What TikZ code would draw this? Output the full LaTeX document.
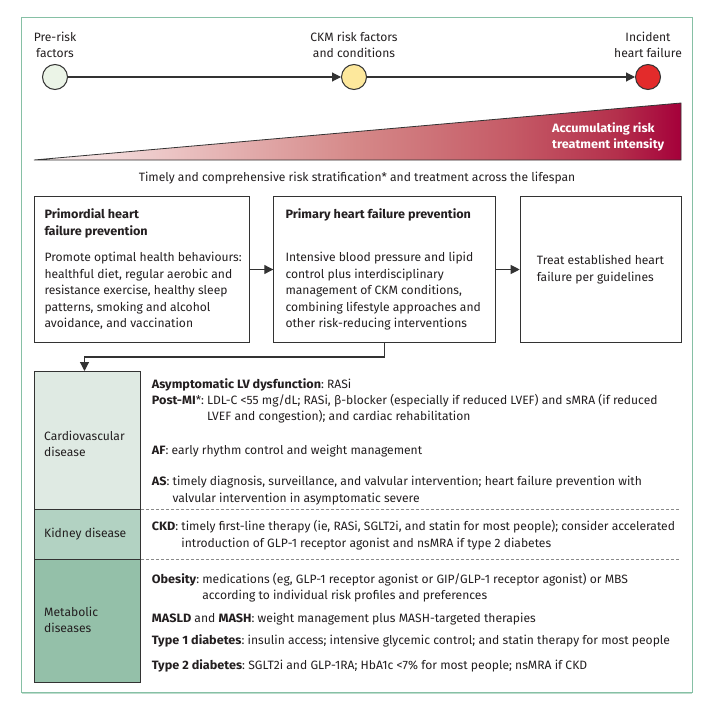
\documentclass[tikz,border=0pt]{standalone}
\usepackage{fontspec}
\setmainfont{Fira Sans}[BoldFeatures={FakeStretch=1.045}]
\usetikzlibrary{arrows.meta}
\definecolor{txt}{HTML}{231F20}
\definecolor{linec}{HTML}{333333}
\definecolor{framec}{HTML}{86C0A5}
\definecolor{framelt}{HTML}{BEDDCD}
\definecolor{cA}{HTML}{EBF4E7}
\definecolor{cB}{HTML}{FDE89C}
\definecolor{cC}{HTML}{E32B2B}
\definecolor{cvfill}{HTML}{DFEAE3}
\definecolor{kdfill}{HTML}{B2D2C2}
\definecolor{mbfill}{HTML}{94C0A9}
\definecolor{dashc}{HTML}{8A8A8A}
\definecolor{w0}{HTML}{FBF1F1}
\definecolor{w1}{HTML}{ECC6C6}
\definecolor{w2}{HTML}{D58888}
\definecolor{w3}{HTML}{C55A66}
\definecolor{w4}{HTML}{B4304C}
\definecolor{w5}{HTML}{A5003A}
\pgfdeclarehorizontalshading{riskshade}{100bp}{color(0bp)=(w0); color(25bp)=(w0); color(35bp)=(w1); color(50bp)=(w2); color(62bp)=(w3); color(70bp)=(w4); color(75bp)=(w5); color(100bp)=(w5)}
\tikzset{
  arr/.style={draw=linec, line width=1.1pt, -{Triangle[length=9pt,width=9pt]}},
  dot/.style={circle, draw=linec, line width=1pt, minimum size=25pt, inner sep=0pt},
  boxs/.style={draw=linec, line width=1pt, inner sep=0pt},
  colbox/.style={draw=linec, line width=1.3pt, inner sep=0pt, minimum width=106.3pt, anchor=north west},
  lbl/.style={align=center, inner sep=0pt},
  tx/.style={anchor=west, align=left, inner sep=0pt},
  row/.style={anchor=base west, inner sep=0pt},
  dline/.style={draw=dashc, line width=0.8pt, dash pattern=on 3pt off 2pt},
}
\newcommand{\tb}[1]{\textbf{#1}}
\newenvironment{hang}{\begin{tabular}[t]{@{}l@{\hskip 0.26em}l@{}}}{\end{tabular}}
\begin{document}
\begin{tikzpicture}[x=1pt,y=-1pt, font=\fontsize{12.1}{16.5}\selectfont\frenchspacing, text=txt]
\useasboundingbox (0,0) rectangle (706,701);
\fill[white] (0,0) rectangle (706,701);
% frame
\draw[framelt, line width=2.5pt] (21.5,693) -- (692,693);
\draw[framec, line width=1pt] (21.5,18) rectangle (692,692);

% timeline
\node[dot, fill=cA] (pre) at (55,77) {};
\node[dot, fill=cB] (ckm) at (354,77) {};
\node[dot, fill=cC] (hf) at (648,77) {};
\node[lbl] (preL) at (55,45) {Pre-risk\\factors};
\node[lbl] (ckmL) at (354,45) {CKM risk factors\\and conditions};
\node[lbl] (hfL) at (648,45) {Incident\\heart failure};
\draw[arr] (pre) -- (ckm);
\draw[arr] (ckm) -- (hf);

% wedge
\shade[shading=riskshade] (34,160) -- (681,103) -- (681,160) -- cycle;
\draw[linec, line width=0.8pt, line join=miter] (34,160) -- (681,103) -- (681,160) -- cycle;
\node[tx, text=white, font=\fontsize{12.1}{16.5}\selectfont\bfseries] (acc) at (552,137) {Accumulating risk\\treatment intensity};

\node[inner sep=0pt] (timely) at (357,178) {Timely and comprehensive risk stratification* and treatment across the lifespan};

% boxes
\node[boxs, minimum width=214.7pt, minimum height=146pt, anchor=north west] (b1) at (34.3,196) {};
\node[boxs, minimum width=221.4pt, minimum height=146pt, anchor=north west] (b2) at (273.3,196) {};
\node[boxs, minimum width=161pt, minimum height=146pt, anchor=north west] (b3) at (519.7,196) {};
\node[tx] (t1) at ([xshift=10pt]b1.west) {\tb{Primordial heart}\\\tb{failure prevention}\\[10pt]Promote optimal health behaviours:\\healthful diet, regular aerobic and\\resistance exercise, healthy sleep\\patterns, smoking and alcohol\\avoidance, and vaccination};
\node[tx] (t2) at ([xshift=12pt]b2.west) {\tb{Primary heart failure prevention}\\[26.5pt]Intensive blood pressure and lipid\\control plus interdisciplinary\\management of CKM conditions,\\combining lifestyle approaches and\\other risk-reducing interventions};
\node[tx] (t3) at ([xshift=17pt]b3.west) {Treat established heart\\failure per guidelines};
\draw[arr] (b1.east) -- (b2.west);
\draw[arr] (b2.east) -- (b3.west);

% table left column
\node[colbox, fill=cvfill, minimum height=138pt] (cv) at (33.7,371) {};
\node[colbox, fill=kdfill, minimum height=50pt] (kd) at (33.7,509) {};
\node[colbox, fill=mbfill, minimum height=123pt] (mb) at (33.7,559) {};
\node[tx] (cvL) at (44,444) {Cardiovascular\\disease};
\node[tx] (kdL) at (44,534) {Kidney disease};
\node[tx] (mbL) at (44,620) {Metabolic\\diseases};
\draw[arr] (b2.south) -- ++(0,14) -| ([xshift=-3pt]cv.north);

\coordinate (d1) at (680,509);
\coordinate (d2) at (680,559);
\draw[dline] (kd.north east) -- (d1);
\draw[dline] (mb.north east) -- (d2);

% table rows
\node[row] (r1) at (151.7,388) {\tb{Asymptomatic LV dysfunction}: RASi};
\node[row] (r2) at (151.7,404) {\begin{hang}\tb{Post-MI}*: & LDL-C <55 mg/dL; RASi, β-blocker (especially if reduced LVEF) and sMRA (if reduced\\ & LVEF and congestion); and cardiac rehabilitation\end{hang}};
\node[row] (r3) at (151.7,454.5) {\tb{AF}: early rhythm control and weight management};
\node[row] (r4) at (151.7,485.5) {\begin{hang}\tb{AS}: & timely diagnosis, surveillance, and valvular intervention; heart failure prevention with\\ & valvular intervention in asymptomatic severe\end{hang}};
\node[row] (r5) at (151.7,530.5) {\begin{hang}\tb{CKD}: & timely first-line therapy (ie, RASi, SGLT2i, and statin for most people); consider accelerated\\ & introduction of GLP-1 receptor agonist and nsMRA if type 2 diabetes\end{hang}};
\node[row] (r6) at (151.7,583) {\begin{hang}\tb{Obesity}: & medications (eg, GLP-1 receptor agonist or GIP/GLP-1 receptor agonist) or MBS\\ & according to individual risk profiles and preferences\end{hang}};
\node[row] (r7) at (151.7,622.5) {\tb{MASLD} and \tb{MASH}: weight management plus MASH-targeted therapies};
\node[row] (r8) at (151.7,644.5) {\tb{Type 1 diabetes}: insulin access; intensive glycemic control; and statin therapy for most people};
\node[row] (r9) at (151.7,669.5) {\tb{Type 2 diabetes}: SGLT2i and GLP-1RA; HbA1c <7\% for most people; nsMRA if CKD};
\end{tikzpicture}
\end{document}
